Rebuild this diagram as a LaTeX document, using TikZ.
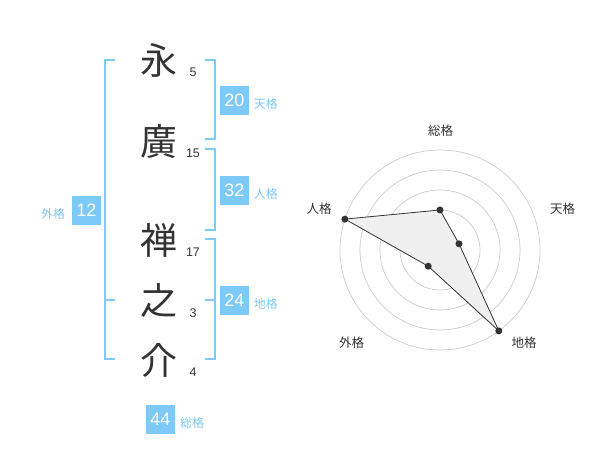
\documentclass[tikz,border=0pt]{standalone}
\usepackage{fontspec}
\setmainfont{Liberation Sans}
\newfontfamily\jpfont{Noto Sans CJK JP}
\definecolor{kakublue}{RGB}{125,201,247}
\definecolor{ink}{RGB}{51,51,51}

\begin{document}
\begin{tikzpicture}[x=1pt,y=-1pt,
    kanji/.style={text=ink,font=\jpfont\fontsize{37}{37}\selectfont,inner sep=0pt},
    stroke/.style={text=ink,font=\fontsize{12.5}{12.5}\selectfont,inner sep=0pt},
    kakubox/.style={fill=kakublue,text=white,minimum size=29pt,inner sep=0pt,font=\fontsize{18}{18}\selectfont},
    kakulabel/.style={text=kakublue,font=\jpfont\fontsize{12}{12}\selectfont,inner sep=0pt},
    bracket/.style={draw=kakublue,line width=2pt},
    ring/.style={draw=gray!40,line width=0.7pt},
    axis/.style={text=ink,font=\jpfont\fontsize{12.5}{12.5}\selectfont,inner sep=0pt},
    dot/.style={circle,fill=ink,inner sep=0pt,minimum size=7pt}]
    \useasboundingbox (0,0) rectangle (600,470);
    % name
    \node[kanji] (c1) at (159,60) {永};
    \node[kanji] (c2) at (159,141) {廣};
    \node[kanji] (c3) at (159,240) {禅};
    \node[kanji] (c4) at (159,300) {之};
    \node[kanji] (c5) at (159,360) {介};
    \node[stroke] (n1) at (193,72.7) {5};
    \node[stroke] (n2) at (193,153.3) {15};
    \node[stroke] (n3) at (193,252.7) {17};
    \node[stroke] (n4) at (193,312.7) {3};
    \node[stroke] (n5) at (193,372.7) {4};
    % brackets
    \draw[bracket] (115,60) -- (105,60) -- (105,359.3) -- (115,359.3);
    \draw[bracket] (105,300) -- (115,300);
    \draw[bracket] (205,60) -- (215,60) -- (215,139.3) -- (205,139.3);
    \draw[bracket] (205,149.3) -- (215,149.3) -- (215,230) -- (205,230);
    \draw[bracket] (205,239.3) -- (215,239.3) -- (215,359.3) -- (205,359.3);
    \draw[bracket] (205,300) -- (215,300);
    % boxes
    \node[kakubox] (ten) at (234.3,100.3) {20};
    \node[kakulabel] (tenl) at (265.8,104) {天格};
    \node[kakubox] (jin) at (234.3,190.3) {32};
    \node[kakulabel] (jinl) at (265.8,194) {人格};
    \node[kakubox] (chi) at (234.3,300.3) {24};
    \node[kakulabel] (chil) at (265.8,304) {地格};
    \node[kakubox] (gai) at (86.5,210.3) {12};
    \node[kakulabel] (gail) at (53,214) {外格};
    \node[kakubox] (sou) at (160.3,419) {44};
    \node[kakulabel] (soul) at (192,422.7) {総格};
    % radar
    \coordinate (ctr) at (440,250);
    \foreach \r in {20,40,...,100}
        \draw[ring] (ctr) circle[radius=\r];
    \fill[gray!40] (ctr) circle[radius=3.5];
    \coordinate (psou) at (440,210);
    \coordinate (pten) at (459,243.8);
    \coordinate (pchi) at (498.8,330.9);
    \coordinate (pgai) at (428.2,266.2);
    \coordinate (pjin) at (344.9,219.1);
    \filldraw[fill=gray!12,draw=ink,line width=0.8pt] (psou) -- (pten) -- (pchi) -- (pgai) -- (pjin) -- cycle;
    \foreach \p in {psou,pten,pchi,pgai,pjin}
        \node[dot] at (\p) {};
    \node[axis] (asou) at (440.5,130.5) {総格};
    \node[axis] (aten) at (562.5,208.5) {天格};
    \node[axis] (ajin) at (319,209) {人格};
    \node[axis] (agai) at (351.7,342.5) {外格};
    \node[axis] (achi) at (524,342.5) {地格};
\end{tikzpicture}
\end{document}
